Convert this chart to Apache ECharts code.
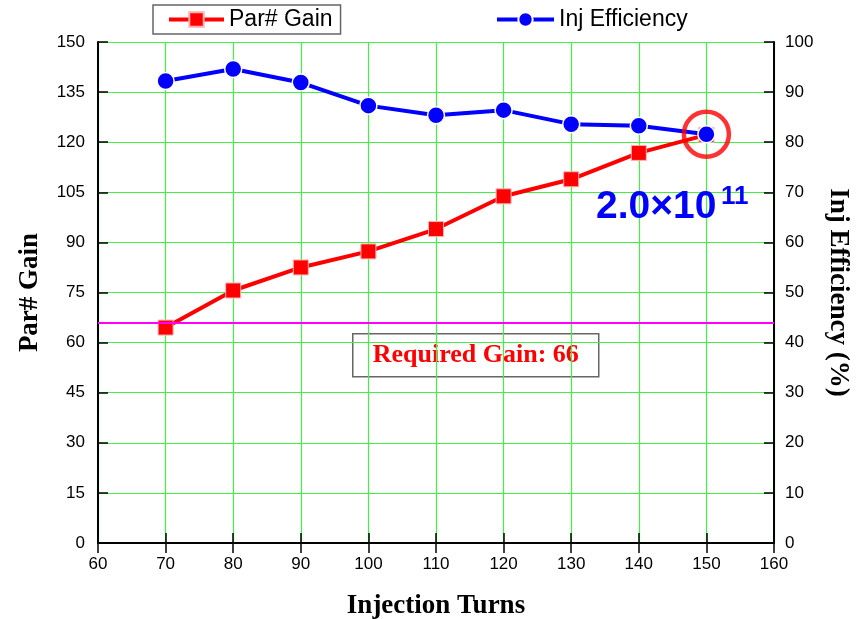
<!DOCTYPE html>
<html>
<head>
<meta charset="utf-8">
<title>Par# Gain and Injection Efficiency vs Injection Turns</title>
<script src="https://cdn.jsdelivr.net/npm/echarts@6/dist/echarts.min.js"></script>
<style>
  html, body { margin: 0; padding: 0; background: #ffffff; }
  #chart { width: 861px; height: 619px; }
</style>
</head>
<body>
<div id="chart"></div>
<script>
// Injection turns (x axis)
var turns = [70, 80, 90, 100, 110, 120, 130, 140, 150];
// Particle-number gain (left axis)
var parGain = [64.5, 75.6, 82.5, 87.3, 94.0, 103.8, 108.9, 116.8, 122.2];
// Injection efficiency in % (right axis)
var injEfficiency = [92.2, 94.6, 91.9, 87.3, 85.4, 86.4, 83.6, 83.3, 81.6];
// Required gain threshold
var requiredGain = 66;
// Highlighted operating point (turns, efficiency)
var highlightPoint = [150, 81.6];

var seriesNames = ['Par# Gain', 'Inj Efficiency'];

function pairs(xs, ys) {
  return xs.map(function (x, i) { return [x, ys[i]]; });
}

var axisBlack = { lineStyle: { color: '#000', width: 2 } };
var tickIn = { show: true, inside: true, length: 10, lineStyle: { color: '#000', width: 1.5 } };
var tickFont = { color: '#000', fontFamily: 'Liberation Sans, Arial, sans-serif', fontSize: 17 };
var titleFont = { color: '#000', fontFamily: 'Liberation Serif, Times New Roman, serif', fontWeight: 'bold', fontSize: 27 };
var gridGreen = { show: true, lineStyle: { color: '#44ee44', width: 1.2 } };
var legendFont = { color: '#000', fontFamily: 'Liberation Sans, Arial, sans-serif', fontSize: 23 };

var chart = echarts.init(document.getElementById('chart'), null, { renderer: 'canvas' });

var option = {
  backgroundColor: '#ffffff',
  animation: false,
  grid: { left: 98, right: 87, top: 42, bottom: 76, containLabel: false, outerBoundsMode: 'none' },
  legend: [
    {
      data: [seriesNames[0]],
      left: 153, top: 5,
      padding: [3, 8, 3, 14],
      borderColor: '#666', borderWidth: 1.5,
      itemWidth: 55, itemHeight: 18,
      lineStyle: { width: 4 },
      textStyle: legendFont
    },
    {
      data: [seriesNames[1]],
      left: 481, top: 5,
      padding: [3, 8, 3, 14],
      itemWidth: 57, itemHeight: 18,
      lineStyle: { width: 4 },
      textStyle: legendFont
    }
  ],
  xAxis: [
    {
      type: 'value', position: 'bottom', min: 60, max: 160, interval: 10,
      name: 'Injection Turns', nameLocation: 'middle', nameGap: 50,
      nameTextStyle: titleFont,
      axisLine: axisBlack, axisTick: tickIn,
      axisLabel: Object.assign({ margin: 13 }, tickFont),
      splitLine: gridGreen
    },
    {
      type: 'value', position: 'top', min: 60, max: 160, interval: 10,
      axisLine: axisBlack, axisTick: tickIn,
      axisLabel: { show: false }, splitLine: { show: false }
    }
  ],
  yAxis: [
    {
      type: 'value', position: 'left', min: 0, max: 150, interval: 15,
      name: 'Par# Gain', nameLocation: 'middle', nameGap: 54, nameRotate: 90,
      nameTextStyle: titleFont,
      axisLine: Object.assign({ show: true }, axisBlack), axisTick: tickIn,
      axisLabel: Object.assign({ margin: 13 }, tickFont),
      splitLine: gridGreen
    },
    {
      type: 'value', position: 'right', min: 0, max: 100, interval: 10,
      name: 'Inj Efficiency (%)', nameLocation: 'middle', nameGap: 50, nameRotate: -90,
      nameTextStyle: titleFont,
      axisLine: Object.assign({ show: true }, axisBlack), axisTick: tickIn,
      axisLabel: Object.assign({ margin: 11 }, tickFont),
      splitLine: { show: false }
    }
  ],
  series: [
    {
      name: seriesNames[0], type: 'line', xAxisIndex: 0, yAxisIndex: 0,
      data: pairs(turns, parGain),
      symbol: 'rect', symbolSize: 15,
      lineStyle: { color: '#ff0000', width: 4 },
      itemStyle: { color: '#ff0000', borderColor: '#ffb0b0', borderWidth: 1 },
      z: 3,
      markLine: {
        silent: true, symbol: 'none',
        label: { show: false },
        lineStyle: { color: '#ff00ff', width: 2, type: 'solid' },
        data: [{ yAxis: requiredGain }]
      }
    },
    {
      name: seriesNames[1], type: 'line', xAxisIndex: 0, yAxisIndex: 1,
      data: pairs(turns, injEfficiency),
      symbol: 'circle', symbolSize: 17,
      lineStyle: { color: '#0000ff', width: 4 },
      itemStyle: { color: '#0000ff', borderColor: '#ffffff', borderWidth: 1.5 },
      z: 4
    },
    {
      name: 'highlight', type: 'scatter', xAxisIndex: 0, yAxisIndex: 1,
      data: [highlightPoint],
      symbol: 'circle', symbolSize: 45,
      itemStyle: { color: 'rgba(0,0,0,0)', borderColor: '#ff0000', borderWidth: 4.5 },
      silent: true, z: 5
    }
  ],
  graphic: [
    {
      type: 'group', left: 352, top: 333,
      children: [
        { type: 'rect', shape: { x: 0, y: 0, width: 246, height: 43 },
          style: { fill: '#ffffff', stroke: '#666666', lineWidth: 1.5 } },
        { type: 'text', x: 123, y: 22,
          style: { text: 'Required Gain: ' + requiredGain, fill: '#ff0000',
                   font: 'bold 26px "Liberation Serif", "Times New Roman", serif',
                   textAlign: 'center', textVerticalAlign: 'middle' } }
      ],
      z: 10
    },
    {
      type: 'text', left: 596, top: 188, z: 10,
      style: { text: '2.0\u00d710', fill: '#0000ff',
               font: 'bold 39px "Liberation Sans", Arial, sans-serif' }
    },
    {
      type: 'text', left: 721, top: 184, z: 10,
      style: { text: '11', fill: '#0000ff',
               font: 'bold 26px "Liberation Sans", Arial, sans-serif' }
    }
  ]
};

chart.setOption(option);
</script>
</body>
</html>
